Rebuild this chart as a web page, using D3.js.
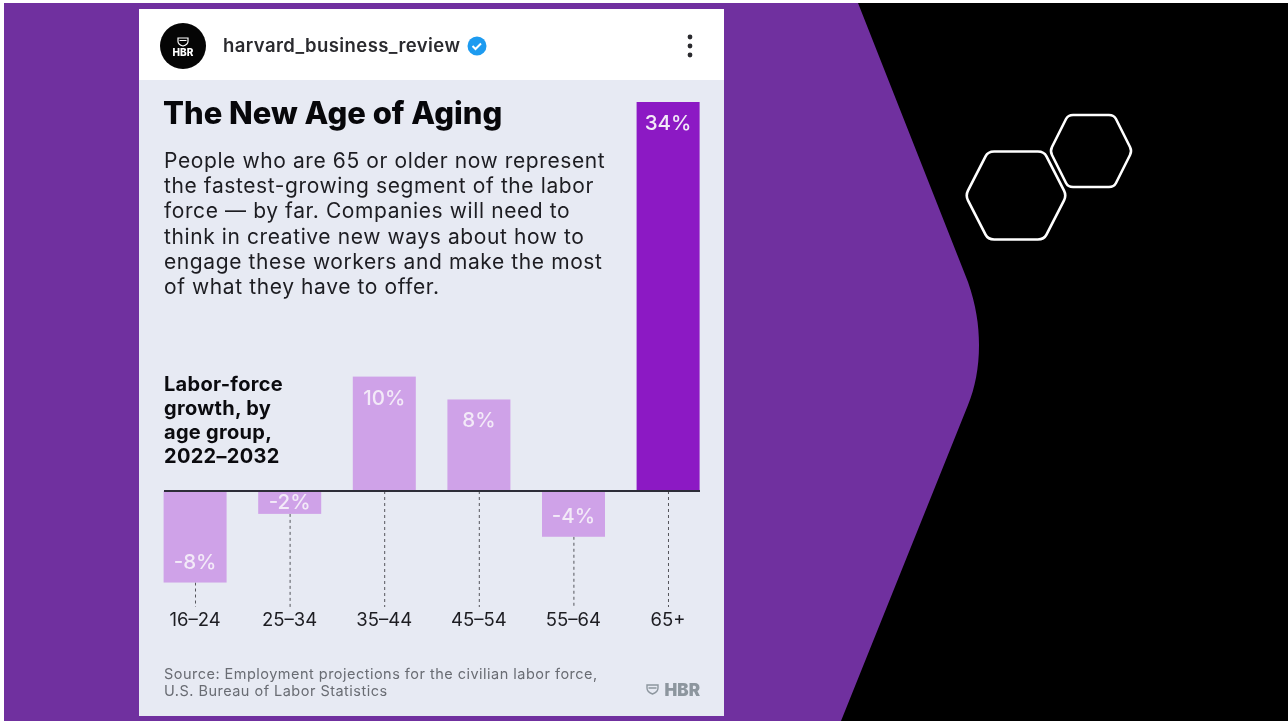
<!DOCTYPE html>
<html><head><meta charset="utf-8">
<script src="https://cdn.jsdelivr.net/npm/d3@7/dist/d3.min.js"></script>
<style>html,body{margin:0;padding:0;background:#fff;overflow:hidden}svg{display:block}text{font-family:Inter,"Noto Sans",sans-serif;filter:blur(.3px)}</style>
</head><body><svg id="c" width="1288" height="721"></svg>
<script>
const categories=["16–24","25–34","35–44","45–54","55–64","65+"];
const growthValues=[-8,-2,10,8,-4,34];
const valueLabels=["-8%","-2%","10%","8%","-4%","34%"];
const bodyLines=["People who are 65 or older now represent","the fastest-growing segment of the labor","force — by far. Companies will need to","think in creative new ways about how to","engage these workers and make the most","of what they have to offer."];
const axisTitleLines=["Labor-force","growth, by","age group,","2022–2032"];
const sourceLines=["Source: Employment projections for the civilian labor force,","U.S. Bureau of Labor Statistics"];

const svg=d3.select("#c");
// slide background
svg.append("rect").attr("x",4).attr("y",3).attr("width",1284).attr("height",718).attr("fill","#000");
svg.append("path").attr("fill","#70309f")
 .attr("d","M4,3 L858,3 L968,282 C976,305 979,325 979,345 C979,368 975,388 968,405 L841,721 L4,721 Z");
// hexagons
function hex(cx,cy,rx,ry,inset){
  const pts=[[cx-rx,cy],[cx-inset,cy-ry],[cx+inset,cy-ry],[cx+rx,cy],[cx+inset,cy+ry],[cx-inset,cy+ry]];
  const r=0.11;let d="";
  pts.forEach((p,i)=>{const a=pts[(i+5)%6],b=pts[(i+1)%6];
    const p1=[p[0]+(a[0]-p[0])*r,p[1]+(a[1]-p[1])*r],p2=[p[0]+(b[0]-p[0])*r,p[1]+(b[1]-p[1])*r];
    d+=(i?"L":"M")+p1+"Q"+p+" "+p2;});
  return d+"Z";
}
svg.append("path").attr("d",hex(1016,195.500,50.500,44,28)).attr("fill","none").attr("stroke","#fff").attr("stroke-width",2.6);
svg.append("path").attr("d",hex(1091,151,41,36,23)).attr("fill","none").attr("stroke","#fff").attr("stroke-width",2.6);

// card
svg.append("rect").attr("x",139).attr("y",9).attr("width",585).attr("height",707).attr("fill","#e7eaf3");
svg.append("rect").attr("x",139).attr("y",9).attr("width",585).attr("height",71).attr("fill","#fff");
// header
svg.append("circle").attr("cx",183).attr("cy",46).attr("r",23).attr("fill","#050505");
svg.append("path").attr("d","M178,38h10v3.500q0,3 -5,4.500q-5,-1.500 -5,-4.500z M179.500,40.500h7").attr("fill","none").attr("stroke","#fff").attr("stroke-width",1.2);
svg.append("text").attr("x",183).attr("y",56).attr("text-anchor","middle").attr("fill","#fff").attr("font-size",10).attr("font-weight",800).text("HBR");
svg.append("text").attr("x",223).attr("y",52).attr("fill","#2a2a2e").attr("font-size",18.500).attr("font-weight",600).attr("letter-spacing",0.4).text("harvard_business_review");
svg.append("circle").attr("cx",477).attr("cy",46).attr("r",9.500).attr("fill","#1d9bf0");
svg.append("path").attr("d","M472.500,46l3,3l5.500,-5.500").attr("fill","none").attr("stroke","#fff").attr("stroke-width",2);
svg.append("g").selectAll("circle").data([37,46,55]).join("circle").attr("cx",690).attr("cy",d=>d).attr("r",2.400).attr("fill","#2a2a2e");

// title + copy
svg.append("text").attr("x",163).attr("y",124).attr("fill","#07070a").attr("font-size",31).attr("font-weight",800).text("The New Age of Aging");
svg.append("g").selectAll("text").data(bodyLines).join("text").attr("x",164).attr("y",(d,i)=>168+i*25.2).attr("fill","#1d1d22").attr("font-size",21).attr("letter-spacing",0.6).text(d=>d);
svg.append("g").selectAll("text").data(axisTitleLines).join("text").attr("x",164).attr("y",(d,i)=>391+i*24).attr("fill","#0b0b0f").attr("font-size",20).attr("font-weight",650).attr("letter-spacing",0.3).text(d=>d);

// chart
const x=d3.scaleBand().domain(categories).range([164,700]).paddingInner(0.334);
const y=d3.scaleLinear().domain([0,34]).range([491,102]);
const axisBottomY=607;
svg.append("g").selectAll("line").data(categories).join("line")
 .attr("x1",d=>x(d)+x.bandwidth()/2).attr("x2",d=>x(d)+x.bandwidth()/2)
 .attr("y1",(d,i)=>Math.max(y(0),y(growthValues[i]))).attr("y2",axisBottomY)
 .attr("stroke","#55565c").attr("stroke-width",1).attr("stroke-dasharray","3 3");
svg.append("g").selectAll("rect").data(growthValues).join("rect")
 .attr("x",(d,i)=>x(categories[i])-0.4).attr("width",x.bandwidth())
 .attr("y",d=>y(Math.max(0,d))).attr("height",d=>Math.abs(y(d)-y(0)))
 .attr("fill",d=>d===d3.max(growthValues)?"#8c19c4":"#cfa2e8");
svg.append("line").attr("x1",164).attr("x2",700).attr("y1",y(0)).attr("y2",y(0)).attr("stroke","#2d2d38").attr("stroke-width",2);
svg.append("g").selectAll("text").data(growthValues).join("text")
 .attr("x",(d,i)=>x(categories[i])+x.bandwidth()/2-0.4)
 .attr("y",d=>d>0?y(d)+28:Math.max(y(d)-14,y(0)+18))
 .attr("text-anchor","middle").attr("fill","#f3eaf8").attr("font-size",20.500).attr("font-weight",500)
 .text((d,i)=>valueLabels[i]);
const ax=d3.axisBottom(x).tickSize(0).tickPadding(0);
const axg=svg.append("g").attr("transform","translate(-0.5,609)").call(ax);
axg.select(".domain").remove();
axg.selectAll("text").attr("fill","#1d1d22").attr("font-size",18.500).attr("dy","0.9em").style("font-family","Inter,sans-serif");

// source
svg.append("g").selectAll("text").data(sourceLines).join("text").attr("x",164).attr("y",(d,i)=>679+i*17).attr("fill","#696c73").attr("font-size",14.500).attr("letter-spacing",0.48).text(d=>d);
svg.append("path").attr("d","M647,685h11v3q0,4 -5.500,6q-5.500,-2 -5.500,-6z M648.500,688h8").attr("fill","none").attr("stroke","#8d969e").attr("stroke-width",1.400);
svg.append("text").attr("x",700).attr("y",696).attr("text-anchor","end").attr("fill","#8d969e").attr("font-size",17).attr("font-weight",900).text("HBR");
</script></body></html>
